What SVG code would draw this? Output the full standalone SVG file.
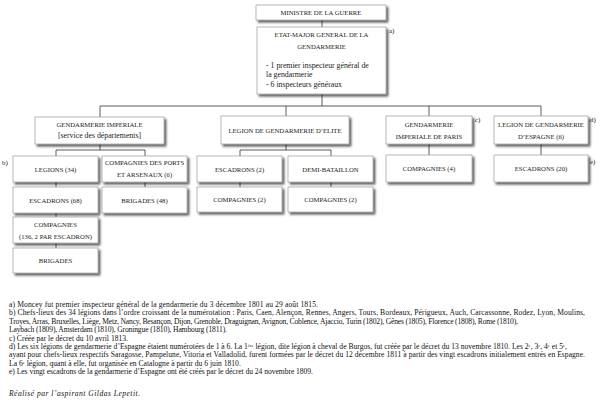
<svg xmlns="http://www.w3.org/2000/svg" width="600" height="408" viewBox="0 0 600 408">
<defs>
<filter id="sh" x="-10%" y="-20%" width="130%" height="150%">
<feDropShadow dx="2" dy="2.2" stdDeviation="1.3" flood-color="#000" flood-opacity="0.65"/>
</filter>
<style>
.box{fill:#fff;stroke:#9a9a9a;stroke-width:0.7;filter:url(#sh)}
.c{fill:none;stroke:#333;stroke-width:0.8}
.t{font-family:"Liberation Serif",serif;font-size:6.7px;fill:#222;text-anchor:middle}
.r{font-family:"Liberation Serif",serif;font-size:7.8px;fill:#222}
.m{text-anchor:middle}
.n{font-family:"Liberation Serif",serif;font-size:7.6px;fill:#111}
.s{font-size:4.6px;baseline-shift:super}
.lbl{font-family:"Liberation Serif",serif;font-size:7px;fill:#222}
</style>
</defs>
<rect width="600" height="408" fill="#fff"/>
<g id="connectors">
<path class="c" d="M322 20V27M322 94V106M100 106H541M100 106V117M286 106V116M429 106V116M541 106V116"/>
<path class="c" d="M100 144V150M56 150H145M56 150V156M145 150V156M56 182V187M56 213V217M56 243V248M145 182V187"/>
<path class="c" d="M286 144V150M240 150H331M240 150V156M331 150V156M240 182V187M331 182V187"/>
<path class="c" d="M429 144V155M541 144V155"/>
</g>
<g id="ministre"><rect class="box" x="256" y="5" width="130" height="15"/><text class="t" x="321" y="15">MINISTRE DE LA GUERRE</text></g>
<g id="etat-major"><rect class="box" x="257" y="27" width="129" height="67"/>
<text class="t" x="321.5" y="36.7">ETAT-MAJOR GENERAL DE LA</text>
<text class="t" x="321.5" y="49.2">GENDARMERIE</text>
<text class="r" x="266" y="67.5">- 1 premier inspecteur général de</text>
<text class="r" x="266" y="76.5">la gendarmerie</text>
<text class="r" x="266" y="87">- 6 inspecteurs généraux</text>
</g>
<text class="lbl" x="389" y="33">a)</text>
<g id="gendarmerie-imperiale"><rect class="box" x="35" y="117" width="129" height="27"/>
<text class="t" x="99.5" y="126.7">GENDARMERIE IMPERIALE</text>
<text class="r m" x="99.5" y="137.7">[service des départements]</text></g>
<g id="legion-elite"><rect class="box" x="221" y="116" width="128" height="28"/>
<text class="t" x="285" y="132.5">LEGION DE GENDARMERIE D’ELITE</text></g>
<g id="paris"><rect class="box" x="386" y="116" width="86" height="28"/>
<text class="t" x="429" y="126.7">GENDARMERIE</text>
<text class="t" x="429" y="138.7">IMPERIALE DE PARIS</text></g>
<text class="lbl" x="475" y="121.5">c)</text>
<g id="espagne"><rect class="box" x="494" y="116" width="94" height="28"/>
<text class="t" x="541" y="126.7">LEGION DE GENDARMERIE</text>
<text class="t" x="541" y="138.7">D’ESPAGNE (6)</text></g>
<text class="lbl" x="590" y="121.5">d)</text>
<text class="lbl" x="2" y="164.5">b)</text>
<g id="legions"><rect class="box" x="13" y="156" width="85" height="26"/><text class="t" x="55.5" y="171.5">LEGIONS (34)</text></g>
<g id="ports"><rect class="box" x="102" y="156" width="85" height="26"/>
<text class="t" x="144.5" y="164.7">COMPAGNIES DES PORTS</text>
<text class="t" x="144.5" y="176.7">ET ARSENAUX (6)</text></g>
<g id="escadrons-2"><rect class="box" x="197" y="156" width="85" height="26"/><text class="t" x="239.5" y="171.5">ESCADRONS (2)</text></g>
<g id="demi-bataillon"><rect class="box" x="288" y="156" width="85" height="26"/><text class="t" x="330.5" y="171.5">DEMI-BATAILLON</text></g>
<g id="compagnies-4"><rect class="box" x="386" y="155" width="86" height="27"/><text class="t" x="429" y="171.2">COMPAGNIES (4)</text></g>
<g id="escadrons-20"><rect class="box" x="494" y="155" width="94" height="27"/><text class="t" x="541" y="171.2">ESCADRONS (20)</text></g>
<text class="lbl" x="590" y="163.5">e)</text>
<g id="escadrons-68"><rect class="box" x="13" y="187" width="85" height="26"/><text class="t" x="55.5" y="202.5">ESCADRONS (68)</text></g>
<g id="brigades-48"><rect class="box" x="102" y="187" width="85" height="26"/><text class="t" x="144.5" y="202.5">BRIGADES (48)</text></g>
<g id="compagnies-2a"><rect class="box" x="197" y="187" width="85" height="25"/><text class="t" x="239.5" y="202">COMPAGNIES (2)</text></g>
<g id="compagnies-2b"><rect class="box" x="288" y="187" width="85" height="25"/><text class="t" x="330.5" y="202">COMPAGNIES (2)</text></g>
<g id="compagnies-136"><rect class="box" x="13" y="217" width="85" height="26"/>
<text class="t" x="55.5" y="226.5">COMPAGNIES</text>
<text class="t" x="55.5" y="238.5">(136, 2 PAR ESCADRON)</text></g>
<g id="brigades"><rect class="box" x="13" y="248" width="85" height="25"/><text class="t" x="55.5" y="263.2">BRIGADES</text></g>
<g id="notes" class="n">
<text x="9" y="307" textLength="309" lengthAdjust="spacing">a) Moncey fut premier inspecteur général de la gendarmerie du 3 décembre 1801 au 29 août 1815.</text>
<text x="9" y="315.4" textLength="576" lengthAdjust="spacing">b) Chefs-lieux des 34 légions dans l’ordre croissant de la numérotation : Paris, Caen, Alençon, Rennes, Angers, Tours, Bordeaux, Périgueux, Auch, Carcassonne, Rodez, Lyon, Moulins,</text>
<text x="9" y="323.8" textLength="509" lengthAdjust="spacing">Troyes, Arras, Bruxelles, Liège, Metz, Nancy, Besançon, Dijon, Grenoble, Draguignan, Avignon, Coblence, Ajaccio, Turin (1802), Gênes (1805), Florence (1808), Rome (1810),</text>
<text x="9" y="332.2" textLength="218" lengthAdjust="spacing">Laybach (1809), Amsterdam (1810), Groningue (1810), Hambourg (1811).</text>
<text x="9" y="340.6" textLength="119" lengthAdjust="spacing">c) Créée par le décret du 10 avril 1813.</text>
<text x="9" y="349">d) Les six légions de gendarmerie d’Espagne étaient numérotées de 1 à 6. La 1<tspan class="s">ère</tspan><tspan dy="0"> légion, dite légion à cheval de Burgos, fut créée par le décret du 13 novembre 1810. Les 2</tspan><tspan class="s">e</tspan>, 3<tspan class="s">e</tspan>, 4<tspan class="s">e</tspan> et 5<tspan class="s">e</tspan>,</text>
<text x="9" y="357.4" textLength="576" lengthAdjust="spacing">ayant pour chefs-lieux respectifs Saragosse, Pampelune, Vitoria et Valladolid, furent formées par le décret du 12 décembre 1811 à partir des vingt escadrons initialement entrés en Espagne.</text>
<text x="9" y="365.8">La 6<tspan class="s">e</tspan> légion, quant à elle, fut organisée en Catalogne à partir du 6 juin 1810.</text>
<text x="9" y="374.2" textLength="304" lengthAdjust="spacing">e) Les vingt escadrons de la gendarmerie d’Espagne ont été créés par le décret du 24 novembre 1809.</text>
<text x="9" y="395.5" font-style="italic" textLength="131" lengthAdjust="spacing">Réalisé par l’aspirant Gildas Lepetit.</text>
</g>
</svg>
